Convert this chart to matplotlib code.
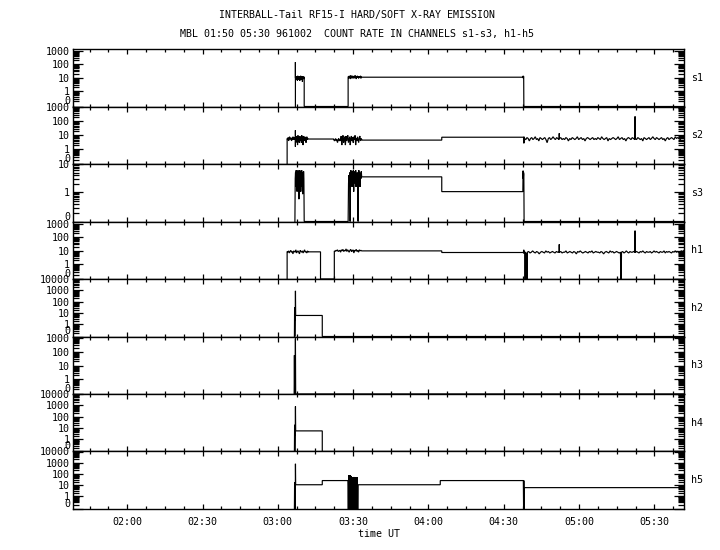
import numpy as np
import matplotlib
matplotlib.use("Agg")
import matplotlib.pyplot as plt
from matplotlib.ticker import FixedLocator, MultipleLocator, FuncFormatter

plt.rcParams['font.family'] = ['DejaVu Sans Mono', 'DejaVu Sans']

# --------------------------------------------------------------------------- #
# Data: time in minutes after 00:00 UT, count rate per channel.
# Each piece is (t_start, t_end, values): one value = flat level over the
# interval, several values = samples spread over the interval.
# --------------------------------------------------------------------------- #
T_MIN, T_MAX = 98.4, 341.8

S1 = [
    (187.0, 187.0, [0, 150, 10]),
    (187.1, 190.5, [9, 12, 7, 13, 8, 11, 6, 14, 9, 10, 7, 12, 8, 13, 6, 11, 9, 14, 7, 10,
                    12, 8, 11, 5, 13, 9, 10, 8, 12, 9]),
    (190.5, 190.5, [9, 0]),
    (190.5, 208.0, [0]),
    (208.0, 213.4, [11, 13, 9, 14, 10, 12, 8, 15, 11, 13, 9, 12, 14, 10, 12, 9, 13, 11, 15, 10,
                    12, 8, 13, 11, 14, 10, 12, 9, 13, 11, 12, 10, 14, 9, 12, 11]),
    (213.4, 277.7, [11]),
    (277.7, 278.0, [11, 14, 9, 13, 11, 0]),
    (278.0, T_MAX, [0]),
]

S2 = [
    (183.7, 183.7, [0, 6]),
    (183.7, 187.0, [6, 5, 7, 4, 6, 8, 5, 6, 7, 4, 6, 5, 8, 6, 5, 7, 6, 5]),
    (187.0, 187.0, [6, 23, 1.5, 7]),
    (187.0, 191.9, [7, 3, 9, 4, 8, 2, 10, 5, 7, 3, 9, 6, 4, 8, 3, 10, 5, 7, 2, 9,
                    6, 4, 8, 5, 7, 3, 6, 8, 5, 6]),
    (191.9, 202.3, [5.5]),
    (202.3, 205.0, [5, 4, 5, 6, 4, 5, 3, 5, 6, 4, 5, 4]),
    (205.0, 213.4, [5, 9, 2, 7, 10, 3, 6, 8, 2, 9, 4, 7, 10, 3, 5, 8, 2, 6, 9, 4,
                    7, 3, 8, 5, 10, 2, 6, 4, 8, 5, 3, 7, 9, 4, 6, 5]),
    (213.4, 245.3, [4.6]),
    (245.3, 277.9, [7.4]),
    (277.9, 278.3, [7.4, 2.7, 8, 3, 6]),
    (278.3, 292.0, [6, 5, 7, 6, 4, 6, 7, 5, 6, 8, 5, 6, 4, 7, 6, 5, 6, 7, 5, 3,
                    6, 7, 5, 6, 8, 6, 5, 7, 6, 5]),
    (292.1, 292.1, [6, 14, 6]),
    (292.2, 322.2, [6, 7, 5, 6, 5, 7, 6, 4, 6, 5, 7, 6, 5, 6, 8, 5, 6, 7, 5, 6,
                    4, 6, 7, 6, 5, 6, 7, 5, 6, 5, 7, 6, 5, 8, 6, 5, 6, 7, 4, 6,
                    5, 6, 7, 6, 5, 6, 8, 5, 6, 7, 5, 6, 4, 6, 7, 6, 5, 7, 6, 5]),
    (322.3, 322.3, [6, 220, 6]),
    (322.4, T_MAX, [6, 5, 7, 6, 5, 6, 4, 7, 6, 5, 6, 7, 5, 6, 8, 6, 5, 7, 6, 5,
                    6, 7, 5, 6, 4, 6, 7, 5, 6, 7, 6, 5, 8, 6, 7, 6, 5, 7, 6, 7]),
]

S3 = [
    (186.8, 190.5, [0, 3, 5, 1.5, 6, 2, 4.5, 1, 5.5, 2.5, 6, 1.5, 4, 0.5, 5, 3, 6, 2, 5.5, 1,
                    4, 2.5, 6, 1.5, 5, 0.8, 4.5, 2, 5.5, 3, 0]),
    (190.5, 208.0, [0]),
    (208.0, 213.4, [0, 2, 4, 1.5, 5, 0, 3, 6, 2, 4.5, 1.5, 5.5, 2.5, 6, 1, 4, 3, 5.5, 2, 6,
                    1.5, 4.5, 3, 5, 2, 0, 4, 6, 2.5, 5, 1.5, 4.5, 3, 5.5, 3.5]),
    (213.4, 245.3, [3.5]),
    (245.3, 277.6, [1.0]),
    (277.6, 278.1, [1.0, 5.8, 3, 5, 4.2, 0]),
    (278.1, T_MAX, [0]),
]

H1 = [
    (183.7, 183.7, [0, 9]),
    (183.7, 192.1, [9, 8, 10, 7, 9, 11, 8, 9, 6, 10, 9, 8, 12, 7, 9, 10, 8, 6, 11, 9,
                    8, 10, 7, 9, 12, 8, 9, 7, 10, 8]),
    (192.1, 197.0, [8.5]),
    (197.0, 197.0, [8.5, 0]),
    (197.0, 202.5, [0]),
    (202.5, 202.5, [0, 10]),
    (202.5, 213.4, [10, 9, 11, 10, 12, 9, 10, 11, 8, 12, 10, 13, 9, 11, 10, 14, 9, 12, 10, 8,
                    11, 13, 9, 10, 12, 7, 11, 10, 13, 9, 11, 8, 12, 10, 11, 10]),
    (213.4, 245.3, [10]),
    (245.3, 277.8, [7.6]),
    (277.8, 279.4, [7.6, 12, 6, 9, 0, 8, 0, 7, 0, 8]),
    (279.4, 292.0, [8, 9, 7, 8, 10, 8, 7, 9, 8, 6, 8, 9, 8, 7, 10, 8, 9, 7, 8, 9,
                    8, 7, 9, 8, 8]),
    (292.1, 292.1, [8, 30, 8]),
    (292.2, 316.5, [8, 9, 7, 8, 8, 10, 7, 8, 9, 8, 7, 9, 8, 6, 9, 8, 10, 8, 7, 8,
                    9, 8, 7, 9, 8, 10, 7, 8, 9, 8, 8, 7, 9, 8, 6, 8, 9, 8, 7, 10,
                    8, 9, 7, 8, 9, 8, 7, 8]),
    (316.5, 316.9, [8, 0, 8, 0, 8]),
    (316.9, 322.2, [8, 9, 7, 8, 10, 8, 7, 9, 8, 8, 9, 8]),
    (322.3, 322.3, [8, 300, 8]),
    (322.4, T_MAX, [8, 9, 8, 7, 9, 8, 10, 8, 7, 9, 8, 8, 9, 7, 8, 10, 8, 9, 8, 7,
                    9, 8, 8, 10, 7, 9, 8, 9, 8, 7, 9, 8, 10, 8, 9, 8, 9, 10, 9, 11]),
]

H2 = [
    (186.6, 187.1, [0, 32, 0, 30, 2, 900, 6]),
    (187.1, 197.7, [6]),
    (197.7, 197.7, [6, 0]),
    (197.7, T_MAX, [0]),
]

H3 = [
    (186.5, 187.1, [0, 56, 0, 50, 0, 900, 0]),
    (187.1, T_MAX, [0]),
]

H4 = [
    (186.6, 187.1, [0, 19, 0, 18, 2, 800, 5.5]),
    (187.1, 197.7, [5.5]),
    (197.7, 197.7, [5.5, 0]),
    (197.7, T_MAX, [0]),
]

H5 = [
    (186.6, 187.1, [0, 17.5, 0, 17, 0, 790, 10.4]),
    (187.1, 197.7, [10.4]),
    (197.7, 197.7, [10.4, 24.7]),
    (197.7, 207.9, [24.7]),
    (207.9, 212.0, [24.7, 0, 77, 0, 70, 0, 75, 0, 60, 0, 50, 0, 48, 0, 52, 0,
                    45, 0, 50, 0, 48, 0, 50, 0, 10.4]),
    (212.0, 244.7, [10.4]),
    (244.7, 244.7, [10.4, 24.7]),
    (244.7, 277.8, [24.7]),
    (277.8, 278.2, [24.7, 0, 25, 0, 5.7]),
    (278.2, T_MAX, [5.7]),
]

CHANNELS = ["s1", "s2", "s3", "h1", "h2", "h3", "h4", "h5"]
SERIES = [S1, S2, S3, H1, H2, H3, H4, H5]

# per-panel y axis: log10(count + offset), top limit, labelled ticks
Y_OFFSET = [0.07, 0.097, 0.1, 0.09, 0.085, 0.09, 0.085, 0.07]
Y_TOP = [1450, 1100, 10, 1400, 10000, 1260, 10000, 10000]
Y_TICKS = [
    [0, 1, 10, 100, 1000],
    [0, 1, 10, 100, 1000],
    [0, 1, 10],
    [0, 1, 10, 100, 1000],
    [0, 1, 10, 100, 1000, 10000],
    [0, 1, 10, 100, 1000],
    [0, 1, 10, 100, 1000, 10000],
    [0, 1, 10, 100, 1000, 10000],
]

FS = 7.2


def trace(pieces):
    ts, vs = [], []
    for t0, t1, vals in pieces:
        if len(vals) == 1:
            ts += [t0, t1]
            vs += [vals[0], vals[0]]
        else:
            ts += list(np.linspace(t0, t1, len(vals)))
            vs += list(vals)
    return np.array(ts), np.array(vs, dtype=float)


def hhmm(m, _pos=None):
    m = int(round(m))
    return f"{m // 60:02d}:{m % 60:02d}"


fig = plt.figure(figsize=(7.2, 5.5), dpi=100)
gs = fig.add_gridspec(len(CHANNELS), 1, left=73 / 720, right=684 / 720,
                      top=1 - 49 / 550, bottom=1 - 509 / 550, hspace=0)

axes = []
for i, (name, pieces) in enumerate(zip(CHANNELS, SERIES)):
    ax = fig.add_subplot(gs[i, 0], sharex=axes[0] if axes else None)
    axes.append(ax)
    c = Y_OFFSET[i]
    ax.set_yscale('function',
                  functions=(lambda y, c=c: np.log10(np.maximum(y, 0) + c),
                             lambda z, c=c: 10.0 ** z - c))
    ax.set_ylim(0, Y_TOP[i])

    t, v = trace(pieces)
    ax.plot(t, v, color='black', lw=0.85, solid_joinstyle='miter')

    ticks = Y_TICKS[i]
    ax.yaxis.set_major_locator(FixedLocator(ticks))
    ax.set_yticklabels([str(k) for k in ticks])
    minor = [k * 10.0 ** d for d in range(-1, 4) for k in range(1, 10)
             if k * 10.0 ** d not in ticks and k * 10.0 ** d <= Y_TOP[i]]
    ax.yaxis.set_minor_locator(FixedLocator(minor))
    for lab in ax.get_yticklabels():
        if lab.get_text() == "0":
            lab.set_va('bottom')

    ax.tick_params(axis='y', which='both', direction='in', left=True, right=True,
                   labelsize=FS, pad=2, width=0.9)
    ax.tick_params(axis='y', which='major', length=7.5)
    ax.tick_params(axis='y', which='minor', length=4)
    ax.tick_params(axis='x', which='both', direction='in', top=True, bottom=True,
                   width=0.9, labelbottom=(i == len(CHANNELS) - 1), labelsize=FS, pad=6)
    ax.tick_params(axis='x', which='major', length=3.5)
    ax.tick_params(axis='x', which='minor', length=2)
    for sp in ax.spines.values():
        sp.set_linewidth(1.0)

    ax.text(1.012, 0.5, name, transform=ax.transAxes, fontsize=FS,
            ha='left', va='center')

ax0 = axes[0]
ax0.set_xlim(T_MIN, T_MAX)
ax0.xaxis.set_major_locator(MultipleLocator(30))
ax0.xaxis.set_minor_locator(MultipleLocator(7.5))
ax0.xaxis.set_major_formatter(FuncFormatter(hhmm))

axes[-1].set_xlabel("time UT", fontsize=FS, labelpad=1)

fig.text(357 / 720, 1 - 15 / 550, "INTERBALL-Tail RF15-I HARD/SOFT X-RAY EMISSION",
         ha='center', va='center', fontsize=FS)
fig.text(357 / 720, 1 - 34 / 550,
         "MBL 01:50 05:30 961002  COUNT RATE IN CHANNELS s1-s3, h1-h5",
         ha='center', va='center', fontsize=FS)

fig.savefig("out.png", dpi=100)
